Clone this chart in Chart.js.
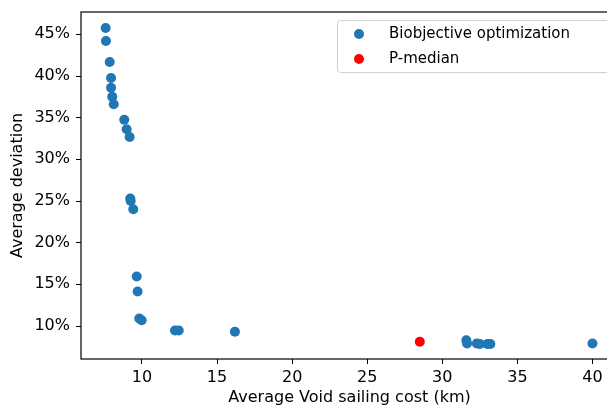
<!DOCTYPE html>
<html>
<head>
<meta charset="utf-8">
<script src="https://cdn.jsdelivr.net/npm/chart.js@4/dist/chart.umd.min.js"></script>
<style>
  html, body { margin: 0; padding: 0; background: #fff; overflow: hidden; }
  #wrap { width: 630px; height: 407px; }
</style>
</head>
<body>
<div id="wrap"><canvas id="c" width="630" height="407"></canvas></div>
<script>
// values
var biCost = [7.58, 7.60, 7.85, 7.94, 7.94, 8.02, 8.12, 8.82, 8.98, 9.18, 9.22, 9.25, 9.42,
              9.65, 9.71, 9.82, 9.98, 12.2, 12.45, 16.19, 31.6, 31.65, 32.3, 32.5, 33.0, 33.2, 40.0];
var biDev  = [45.76, 44.2, 41.67, 39.75, 38.6, 37.5, 36.6, 34.75, 33.6, 32.67, 25.3, 25.0, 24.0,
              15.95, 14.15, 10.9, 10.7, 9.45, 9.45, 9.3, 8.3, 7.9, 7.9, 7.85, 7.85, 7.85, 7.9];
var pmCost = [28.5];
var pmDev  = [8.1];
var xTicks = [10, 15, 20, 25, 30, 35, 40];
var yTicks = [10, 15, 20, 25, 30, 35, 40, 45];
var seriesNames = ['Biobjective optimization', 'P-median'];

var FONT = "'DejaVu Sans', sans-serif";

function pts(xs, ys) {
  return xs.map(function(x, i) { return {x: x, y: ys[i]}; });
}

// box around the plot area (matplotlib spines)
var frame = {
  id: 'frame',
  afterDraw: function(chart) {
    var a = chart.chartArea, ctx = chart.ctx;
    ctx.save();
    ctx.strokeStyle = '#000';
    ctx.lineWidth = 1.2;
    ctx.strokeRect(a.left, a.top, a.right - a.left, a.bottom - a.top);
    ctx.restore();
  }
};

// legend drawn inside the axes, upper right
var innerLegend = {
  id: 'innerLegend',
  afterDraw: function(chart) {
    var ctx = chart.ctx;
    var x0 = 337, y0 = 20, w = 300, h = 52;
    ctx.save();
    ctx.fillStyle = 'rgba(255,255,255,0.85)';
    ctx.strokeStyle = '#d0d0d0';
    ctx.lineWidth = 1;
    ctx.beginPath();
    ctx.roundRect(x0 + 0.5, y0 + 0.5, w, h, 3);
    ctx.fill();
    ctx.stroke();
    ctx.font = '15px ' + FONT;
    ctx.textBaseline = 'middle';
    chart.data.datasets.forEach(function(ds, i) {
      var y = 34 + i * 25;
      ctx.fillStyle = ds.backgroundColor;
      ctx.beginPath();
      ctx.arc(359, y, 5, 0, Math.PI * 2);
      ctx.fill();
      ctx.fillStyle = '#000';
      ctx.fillText(ds.label, 389, y);
    });
    ctx.restore();
  }
};

new Chart(document.getElementById('c'), {
  type: 'scatter',
  data: {
    datasets: [
      { label: seriesNames[0], data: pts(biCost, biDev), backgroundColor: '#1f77b4',
        pointRadius: 5, pointBorderWidth: 0, pointHoverRadius: 5 },
      { label: seriesNames[1], data: pts(pmCost, pmDev), backgroundColor: '#ff0000',
        pointRadius: 5, pointBorderWidth: 0, pointHoverRadius: 5 }
    ]
  },
  options: {
    responsive: false,
    animation: false,
    layout: { padding: { top: 12, right: 12, left: 0, bottom: 0 } },
    plugins: { legend: { display: false }, tooltip: { enabled: false } },
    scales: {
      x: {
        type: 'linear',
        min: 5.94, max: 41.7,
        afterBuildTicks: function(s) { s.ticks = xTicks.map(function(v) { return {value: v}; }); },
        afterFit: function(s) { s.height = 48; s.paddingLeft = 0; s.paddingRight = 0; },
        grid: { drawOnChartArea: false, color: '#000', tickLength: 5, tickWidth: 1 },
        border: { display: false },
        ticks: { color: '#000', font: { family: FONT, size: 16 }, padding: 4, maxRotation: 0 },
        title: { display: true, text: 'Average Void sailing cost (km)', color: '#000',
                 font: { family: FONT, size: 16 }, padding: { top: 0, bottom: 0 } }
      },
      y: {
        type: 'linear',
        min: 6.04, max: 47.68,
        afterBuildTicks: function(s) { s.ticks = yTicks.map(function(v) { return {value: v}; }); },
        afterFit: function(s) { s.width = 81; s.paddingTop = 0; s.paddingBottom = 0; },
        grid: { drawOnChartArea: false, color: '#000', tickLength: 5, tickWidth: 1 },
        border: { display: false },
        ticks: { color: '#000', font: { family: FONT, size: 16 }, padding: 6,
                 callback: function(v) { return v + '%'; } },
        title: { display: true, text: 'Average deviation', color: '#000',
                 font: { family: FONT, size: 16 }, padding: { top: 8, bottom: 0 } }
      }
    }
  },
  plugins: [frame, innerLegend]
});
</script>
</body>
</html>
